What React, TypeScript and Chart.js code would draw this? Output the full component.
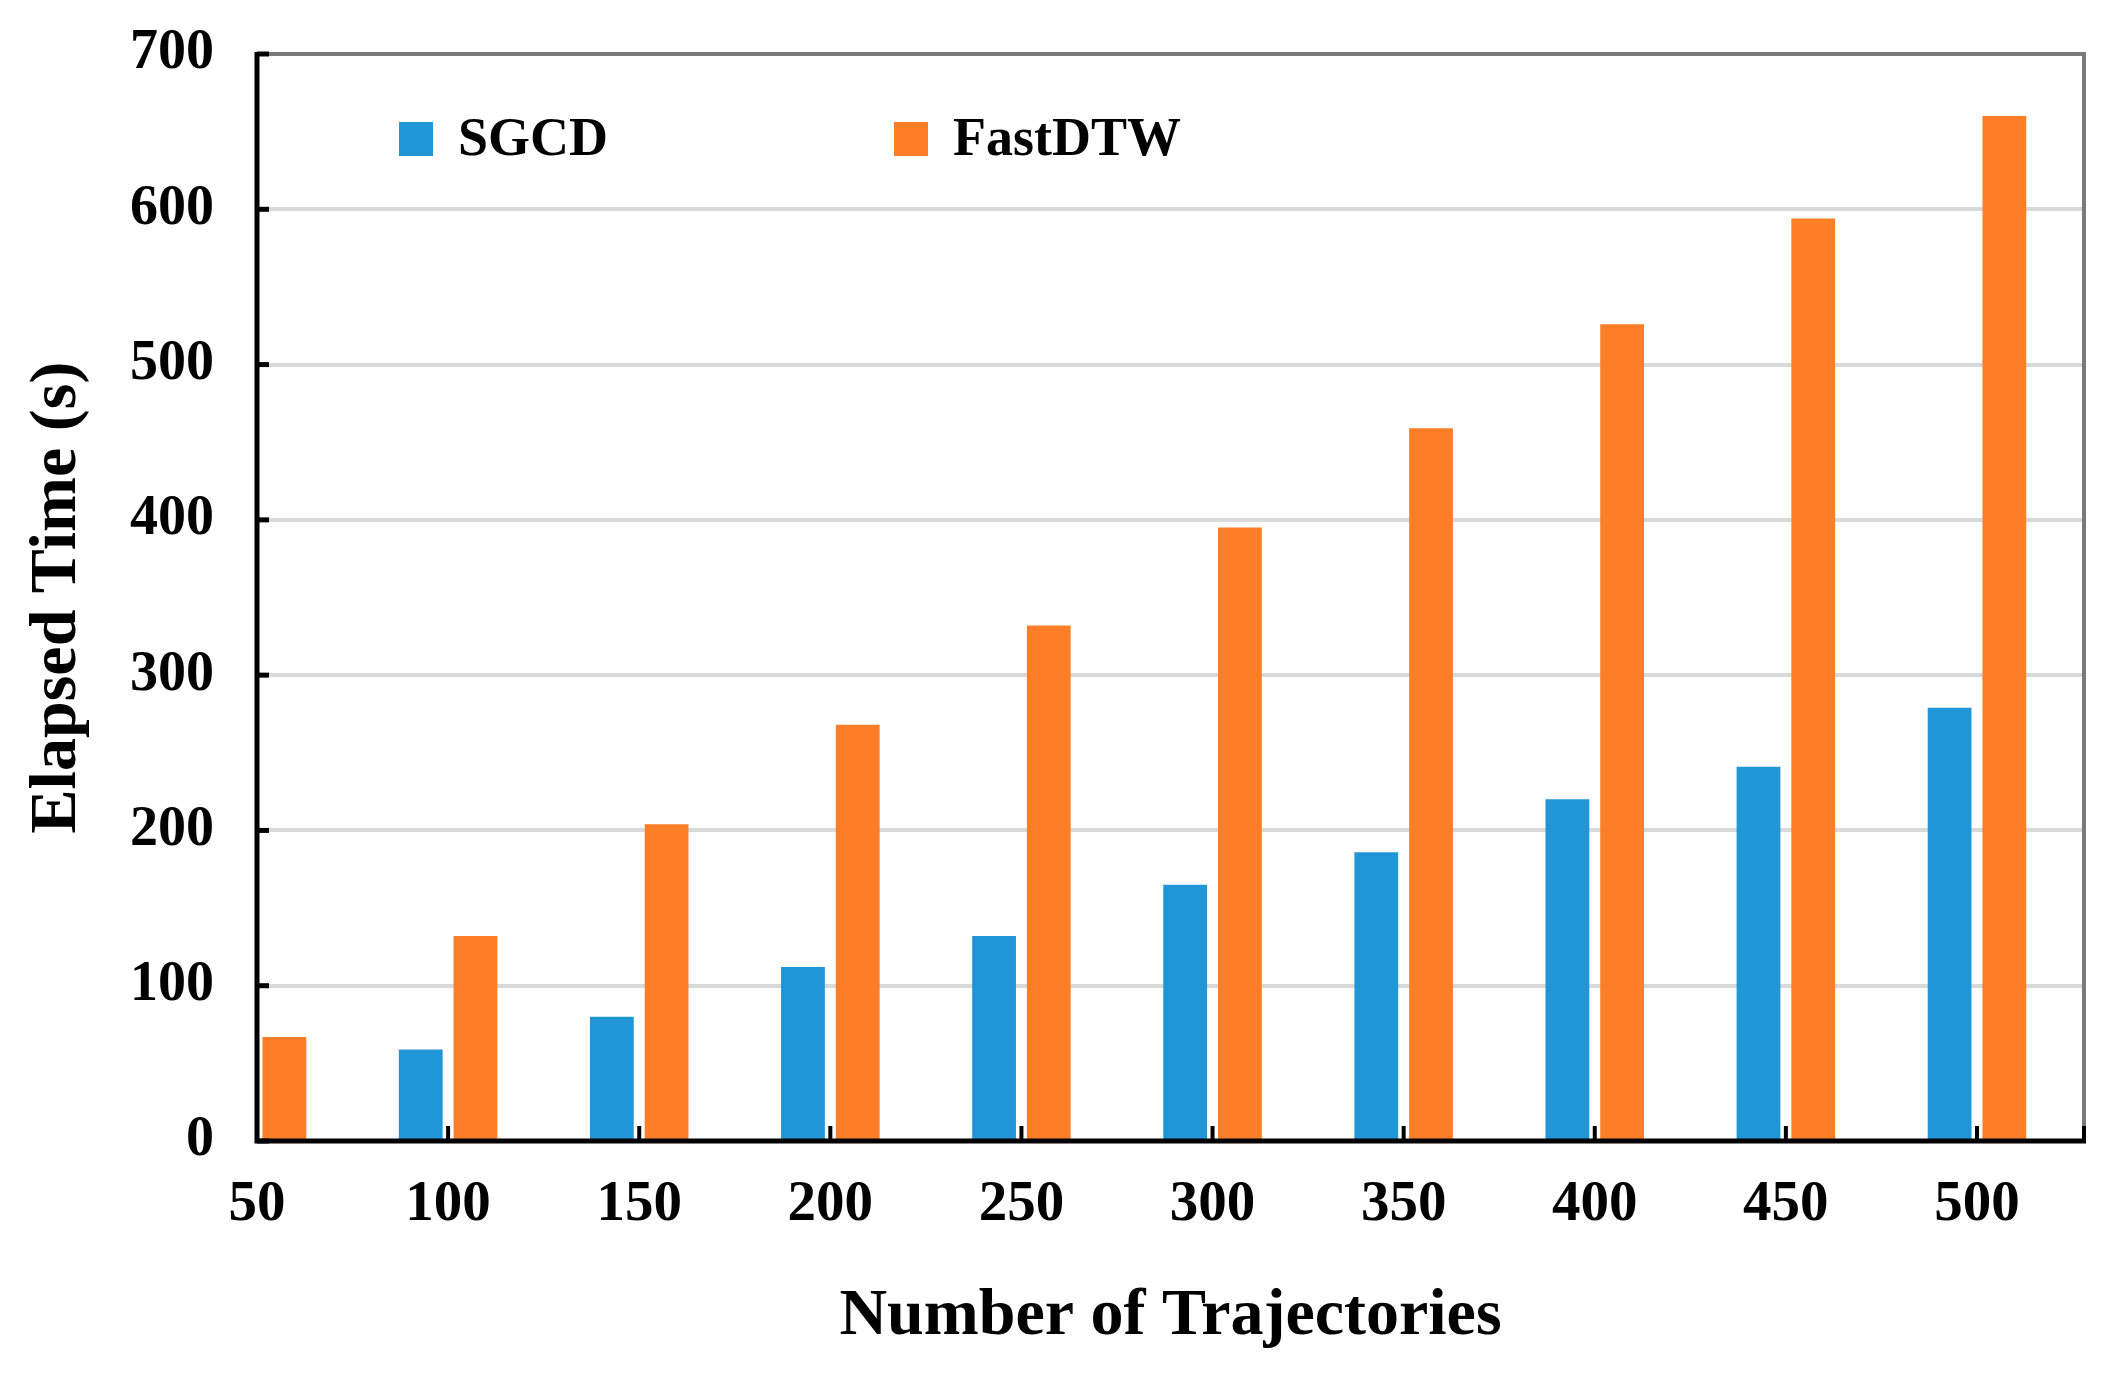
import React, { useEffect, useRef } from "react";
import { Chart, registerables } from "chart.js";

Chart.register(...registerables);

const categories = [50, 100, 150, 200, 250, 300, 350, 400, 450, 500];
const sgcdValues: (number | null)[] = [null, 59, 80, 112, 132, 165, 186, 220, 241, 279];
const fastdtwValues = [67, 132, 204, 268, 332, 395, 459, 526, 594, 660];
const yTickValues = [0, 100, 200, 300, 400, 500, 600, 700];
const seriesNames = ["SGCD", "FastDTW"];
const seriesColors = ["#2196d6", "#fd7e27"];
const xTitle = "Number of Trajectories";
const yTitle = "Elapsed Time (s)";

const FONT = "'Liberation Serif', 'Times New Roman', serif";

const framePlugin = {
  id: "frame",
  afterDatasetsDraw(chart: any) {
    const { ctx, chartArea, scales } = chart;
    const { left, right, top, bottom } = chartArea;
    const x = scales.x;
    const y = scales.y;
    ctx.save();
    ctx.strokeStyle = "#7a7a7a";
    ctx.lineWidth = 4;
    ctx.beginPath();
    ctx.moveTo(left, top);
    ctx.lineTo(right, top);
    ctx.lineTo(right, bottom);
    ctx.stroke();
    ctx.strokeStyle = "#000";
    ctx.lineWidth = 5;
    ctx.beginPath();
    ctx.moveTo(left, top - 2);
    ctx.lineTo(left, bottom);
    ctx.lineTo(right + 2, bottom);
    ctx.stroke();
    ctx.lineWidth = 5;
    y.ticks.forEach((t: any) => {
      const py = y.getPixelForValue(t.value);
      ctx.beginPath();
      ctx.moveTo(left, py);
      ctx.lineTo(left + 12, py);
      ctx.stroke();
    });
    ctx.lineWidth = 4;
    const xs = x.ticks.map((t: any) => x.getPixelForValue(t.value));
    xs.push(right);
    xs.forEach((px: number) => {
      ctx.beginPath();
      ctx.moveTo(px, bottom);
      ctx.lineTo(px, bottom - 15);
      ctx.stroke();
    });
    ctx.restore();
  },
  afterDraw(chart: any) {
    const { ctx, chartArea } = chart;
    const { left, top } = chartArea;
    const offsets = [142, 637];
    ctx.save();
    ctx.font = `bold 54px ${FONT}`;
    ctx.textBaseline = "middle";
    ctx.textAlign = "left";
    chart.data.datasets.forEach((ds: any, i: number) => {
      const sx = left + offsets[i];
      const sy = top + 68;
      ctx.fillStyle = ds.backgroundColor;
      ctx.fillRect(sx, sy, 34, 34);
      ctx.fillStyle = "#000";
      ctx.fillText(ds.label, sx + 59, sy + 19);
    });
    ctx.restore();
  },
};

export default function App() {
  const canvasRef = useRef<HTMLCanvasElement | null>(null);

  useEffect(() => {
    if (!canvasRef.current) return;
    const chart = new Chart(canvasRef.current, {
      type: "bar",
      data: {
        datasets: [
          {
            label: seriesNames[0],
            data: categories.map((c, i) => ({ x: c, y: sgcdValues[i] })) as any,
            backgroundColor: seriesColors[0],
            categoryPercentage: 0.573,
            barPercentage: 0.8,
          },
          {
            label: seriesNames[1],
            data: categories.map((c, i) => ({ x: c, y: fastdtwValues[i] })) as any,
            backgroundColor: seriesColors[1],
            categoryPercentage: 0.573,
            barPercentage: 0.8,
          },
        ],
      },
      options: {
        animation: false,
        responsive: true,
        maintainAspectRatio: false,
        layout: { padding: { left: 23, right: 41, top: 54, bottom: 10 } },
        plugins: {
          legend: { display: false },
          tooltip: { enabled: false },
        },
        scales: {
          x: {
            type: "linear",
            min: 50,
            max: 528,
            offset: false,
            afterBuildTicks: (scale: any) => {
              scale.ticks = categories.map((v) => ({ value: v }));
            },
            afterFit: (scale: any) => {
              scale.height = 222;
            },
            grid: { display: false, drawTicks: false },
            border: { display: false },
            ticks: {
              padding: 30,
              color: "#000",
              font: { family: FONT, size: 57, weight: "bold" },
              callback: (v: any) => String(v),
            },
            title: {
              display: true,
              text: xTitle,
              color: "#000",
              font: { family: FONT, size: 66, weight: "bold" },
              padding: { top: 0, bottom: 6 },
            },
          },
          y: {
            min: 0,
            max: 700,
            afterBuildTicks: (scale: any) => {
              scale.ticks = yTickValues.map((v) => ({ value: v }));
            },
            afterFit: (scale: any) => {
              scale.width = 234;
            },
            grid: {
              color: "#d9d9d9",
              lineWidth: 4,
              drawTicks: true,
              tickLength: 43,
              tickColor: "rgba(0,0,0,0)",
            },
            border: { display: false },
            ticks: {
              padding: 0,
              color: "#000",
              font: { family: FONT, size: 56, weight: "bold" },
            },
            title: {
              display: true,
              text: yTitle,
              color: "#000",
              font: { family: FONT, size: 66, weight: "bold" },
              padding: { top: -5, bottom: 0 },
            },
          },
        },
      },
      plugins: [framePlugin],
    });
    return () => chart.destroy();
  }, []);

  return (
    <div style={{ position: "fixed", left: 0, top: 0, width: 2125, height: 1373, background: "#fff" }}>
      <canvas ref={canvasRef} />
    </div>
  );
}
